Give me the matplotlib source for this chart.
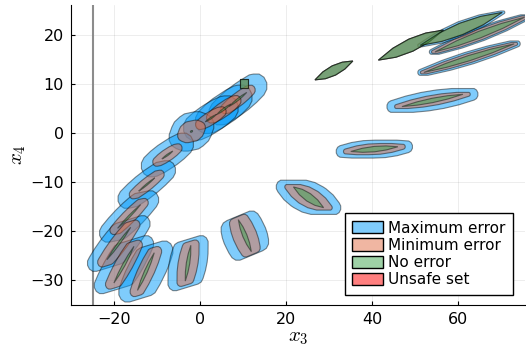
import numpy as np
import matplotlib
matplotlib.use("Agg")
import matplotlib.pyplot as plt
from matplotlib.colors import to_rgba
from matplotlib.patches import Polygon, Patch

plt.rcParams["mathtext.fontset"] = "cm"

# reach sets, one entry per time step
set_x = [8.8, 5.5, 2.5, -2.0, -7.6, -12.4, -16.5, -18.9, -17.7, -12.6, -2.8, 10.4,
         25.2, 40.5, 54.0, 62.5, 65.0, 31.1, 49.0, 60.7]
set_y = [6.8, 4.8, 3.0, 0.3, -4.5, -10.5, -17.0, -22.5, -26.8, -28.2, -26.5, -20.9,
         -13.1, -3.3, 6.6, 15.2, 20.0, 12.7, 17.85, 21.15]
set_theta = [35, 33, 30, 25, 32, 36, 42, 50, 58, 63, 80, -65,
             -31, 5, 10, 15.5, 18.7, 23.6, 22, 19.4]
set_phi = [10, 10, 10, 10, 10, 10, 10, 15, 15, 15, 15, 20,
           0, 0, 0, 0, 0, 0, 0, 0]

# no error (nominal) sets: half length and half width
nom_a = [2.5, 2.0, 1.5, 0.3, 1.5, 2.3, 3.6, 4.3, 4.4, 4.3, 3.7, 3.6,
         4.1, 5.5, 7.2, 10.9, 11.0, 4.8, 8.15, 10.1]
nom_w = [0.2, 0.2, 0.15, 0.15, 0.15, 0.15, 0.2, 0.25, 0.3, 0.35, 0.4, 0.5,
         0.85, 0.55, 0.45, 0.55, 0.7, 1.0, 1.3, 1.2]

# minimum error sets
min_a = [3.2, 3.0, 2.5, 1.7, 2.5, 3.3, 4.0, 4.6, 4.4, 4.4, 3.6, 3.2,
         4.1, 5.5, 7.2, 10.9, 11.0, 4.8, 8.15, 10.1]
min_h = [0.4, 0.4, 0.4, 0.5, 0.4, 0.5, 0.6, 1.0, 1.0, 0.7, 1.1, 1.3,
         1.5, 1.2, 1.3, 0.5, 0.5, 0, 0, 0]
min_r = [1.0, 1.1, 1.0, 1.2, 0.9, 0.9, 0.9, 1.0, 1.0, 1.0, 0.9, 1.0,
         0.5, 0.5, 0.4, 0.3, 0.3, 0, 0, 0]

# maximum error sets
max_a = [4.6, 4.2, 3.8, 2.8, 4.0, 4.6, 4.6, 4.2, 4.0, 4.0, 3.4, 2.4,
         4.1, 5.5, 7.2, 10.9, 11.0, 4.8, 8.15, 10.1]
max_h = [0.5, 0.5, 0.5, 0.4, 0.4, 1.0, 1.6, 3.0, 3.2, 2.6, 2.6, 2.8,
         2.6, 2.2, 2.3, 0.8, 0.8, 0, 0, 0.3]
max_r = [2.5, 2.6, 2.6, 2.3, 2.3, 2.0, 1.9, 1.7, 1.7, 2.0, 1.6, 1.9,
         1.4, 1.2, 1.2, 0.6, 0.5, 0, 0, 0.3]

# initial box
x0_lo = [9.2, 9.1]
x0_hi = [11.2, 11.0]

unsafe_x3 = -25

labels = ["Maximum error", "Minimum error", "No error", "Unsafe set"]
colors = ["#009AFA", "#E36F47", "#3EA44E", "#FF0000"]


def zonotope(c, gens):
    g = np.array(gens, dtype=float)
    flip = (g[:, 1] < 0) | ((g[:, 1] == 0) & (g[:, 0] < 0))
    g[flip] *= -1
    g = g[np.argsort(np.arctan2(g[:, 1], g[:, 0]))]
    start = np.asarray(c) - g.sum(0)
    return start + np.cumsum(np.vstack([2 * g, -2 * g]), axis=0)


def set_gens(i, a, h, r):
    # lens along theta, plus a segment along phi, plus a rounding disc
    th = np.radians(set_theta[i])
    delta = min(1.5 * nom_w[i] / nom_a[i], 1.2)
    phis = th + np.linspace(-delta, delta, 4)
    L = a / np.cos(phis - th).sum()
    gens = [[L * np.cos(p), L * np.sin(p)] for p in phis]
    ph = np.radians(set_phi[i])
    gens.append([h * np.cos(ph), h * np.sin(ph)])
    n = 6
    ell = r * np.pi / (2 * n)
    for k in range(n):
        gens.append([ell * np.cos(k * np.pi / n), ell * np.sin(k * np.pi / n)])
    return gens


fig = plt.figure(figsize=(5.26, 3.5), dpi=100)
ax = fig.add_axes([0.135, 0.1286, 0.863, 0.857])

ax.axvline(unsafe_x3, color="0.55", lw=1.5, zorder=1)

layers = [(max_a, max_h, max_r), (min_a, min_h, min_r), (nom_a, None, None)]
box = np.array([[x0_lo[0], x0_lo[1]], [x0_hi[0], x0_lo[1]],
                [x0_hi[0], x0_hi[1]], [x0_lo[0], x0_hi[1]]])
for col, (aa, hh, rr) in zip(colors[:3], layers):
    for i in range(len(set_x)):
        h = hh[i] if hh is not None else 0.0
        r = rr[i] if rr is not None else 0.0
        pts = zonotope([set_x[i], set_y[i]], set_gens(i, aa[i], h, r))
        ax.add_patch(Polygon(pts, closed=True, fc=to_rgba(col, 0.5),
                             ec=(0, 0, 0, 0.45), lw=0.8, zorder=2))
    ax.add_patch(Polygon(box, closed=True, fc=to_rgba(col, 0.5),
                         ec=(0, 0, 0, 0.45), lw=0.8, zorder=2))

ax.set_xlim(-30, 75.5)
ax.set_ylim(-35, 26)
ax.set_xticks([-20, 0, 20, 40, 60])
ax.set_yticks([-30, -20, -10, 0, 10, 20])
ax.grid(True, color="black", alpha=0.1, lw=0.5)
ax.set_axisbelow(True)
for s in ["top", "right"]:
    ax.spines[s].set_visible(False)
ax.tick_params(direction="in", length=3, labelsize=11.5, pad=5)

ax.set_xlabel("$x_3$", fontsize=15, labelpad=0)
ax.set_ylabel("$x_4$", fontsize=15, labelpad=2)

handles = [Patch(fc=to_rgba(c, 0.5), ec="black", lw=1) for c in colors]
leg = ax.legend(handles, labels, loc="lower right", bbox_to_anchor=(0.974, 0.033),
                borderaxespad=0, fontsize=11, fancybox=False, framealpha=1,
                edgecolor="black", handlelength=2.0, handleheight=0.85,
                handletextpad=0.35, labelspacing=0.15, borderpad=0.5)
leg.get_frame().set_linewidth(1.0)

fig.savefig("out.png", dpi=100)
